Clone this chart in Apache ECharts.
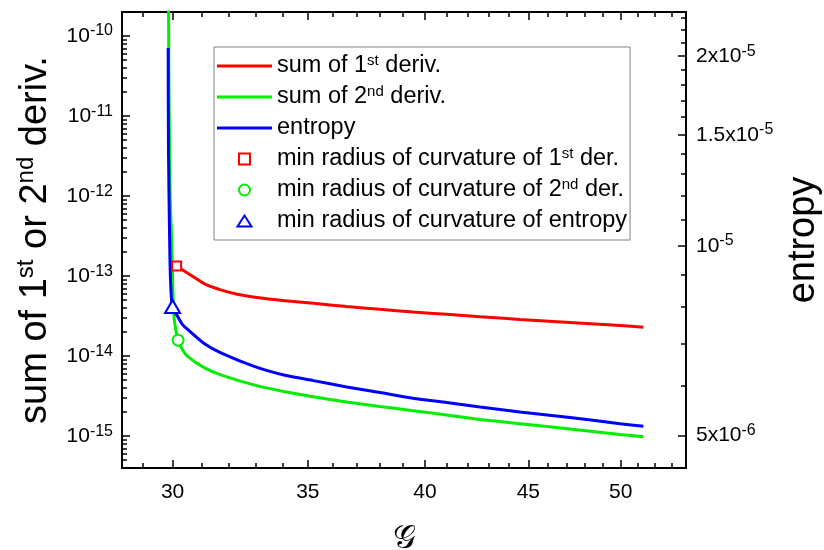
<!DOCTYPE html>
<html><head><meta charset="utf-8">
<script src="https://cdn.jsdelivr.net/npm/echarts@6/dist/echarts.min.js"></script>
<style>html,body{margin:0;padding:0;background:#fff}#c{width:824px;height:550px}</style>
</head><body><div id="c"></div>
<script>
// ---- data ----
const redG   = [30.14, 30.54, 31.10, 31.72, 32.30, 32.95, 34.10, 35.22, 36.59, 38.00, 39.46, 41.00, 42.59, 44.57, 47.19, 49.96, 51.31];
const redV   = [1.334e-13, 1.08e-13, 8.05e-14, 6.68e-14, 5.94e-14, 5.46e-14, 4.93e-14, 4.57e-14, 4.18e-14, 3.85e-14, 3.56e-14, 3.33e-14, 3.11e-14, 2.88e-14, 2.64e-14, 2.41e-14, 2.30e-14];
const greenG = [29.86, 29.88, 29.92, 29.97, 30.01, 30.06, 30.19, 30.35, 30.54, 31.10, 31.72, 32.95, 34.10, 35.22, 36.59, 38.00, 39.46, 41.00, 42.59, 44.57, 47.19, 49.96, 51.31];
const greenV = [4e-10, 1.6e-11, 8.9e-13, 2.8e-13, 6.7e-14, 2.8e-14, 1.585e-14, 1.19e-14, 9.80e-15, 7.18e-15, 5.79e-15, 4.34e-15, 3.58e-15, 3.10e-15, 2.68e-15, 2.35e-15, 2.08e-15, 1.84e-15, 1.62e-15, 1.43e-15, 1.23e-15, 1.05e-15, 0.983e-15];
const blueG  = [29.85, 29.86, 29.90, 29.93, 29.99, 30.20, 30.35, 30.54, 31.10, 31.72, 32.95, 34.10, 35.22, 36.59, 38.00, 39.46, 41.00, 42.59, 44.57, 47.19, 49.96, 51.31];
const blueS  = [2.06e-5, 1.42e-5, 1.02e-5, 8.83e-6, 8.01e-6, 7.69e-6, 7.49e-6, 7.356e-6, 7.0e-6, 6.755e-6, 6.43e-6, 6.23e-6, 6.11e-6, 5.97e-6, 5.85e-6, 5.73e-6, 5.64e-6, 5.55e-6, 5.45e-6, 5.34e-6, 5.22e-6, 5.17e-6];
const minRed   = [30.14, 1.334e-13];
const minGreen = [30.19, 1.585e-14];
const minBlue  = [30.00, 8.01e-6];

// ---- axes / ticks ----
const xRange = [28.32, 53.86];
const xMajor = [30, 35, 40, 45, 50];
const xMinor = [29, 31, 32, 33, 34, 36, 37, 38, 39, 41, 42, 43, 44, 46, 47, 48, 49, 51, 52, 53];
const leftRange = [4e-16, 2e-10];
const leftMajorExp = [-15, -14, -13, -12, -11, -10];
const rightRange = [4.44e-6, 2.35e-5];
const rightMajor = [5e-6, 1e-5, 1.5e-5, 2e-5];
const rightMajorLabels = [['5x10', '-6'], ['10', '-5'], ['1.5x10', '-5'], ['2x10', '-5']];
const rightMinor = [6e-6, 7e-6, 8e-6, 9e-6, 1.1e-5, 1.2e-5, 1.3e-5, 1.4e-5, 1.6e-5, 1.7e-5, 1.8e-5, 1.9e-5, 2.1e-5, 2.2e-5, 2.3e-5];

const L = Math.log10;
const FF = '"Liberation Sans", Arial, sans-serif';

const leftMinor = [];
for (let e = -16; e <= -10; e++) for (let m = 2; m <= 9; m++) {
  const v = m * Math.pow(10, e);
  if (v > leftRange[0] && v < leftRange[1]) leftMinor.push(v);
}

const tickStyle = {color: '#000', width: 1.5};
const supRich = {
  b: {fontSize: 21, lineHeight: 26, fontFamily: FF, color: '#000'},
  s: {fontSize: 16, lineHeight: 16, verticalAlign: 'top', fontFamily: FF, color: '#000'}
};

function minorAxis(base, vals) {
  return Object.assign({}, base, {
    axisLine: {show: false, onZero: false},
    axisTick: {inside: true, length: 5, lineStyle: tickStyle, customValues: vals},
    axisLabel: {show: false}, splitLine: {show: false}, name: ''
  });
}

const xBase = {type: 'value', min: L(xRange[0]), max: L(xRange[1]), splitLine: {show: false}};
const xAxes = [
  Object.assign({}, xBase, {
    position: 'bottom',
    axisLine: {show: true, onZero: false, lineStyle: {color: '#000', width: 2}},
    axisTick: {inside: true, length: 8, lineStyle: tickStyle, customValues: xMajor.map(L)},
    axisLabel: {customValues: xMajor.map(L), fontSize: 21, fontFamily: FF, color: '#000', margin: 14,
      formatter: v => String(Math.round(Math.pow(10, v)))},
    name: '\u{1D4A2}', nameLocation: 'middle', nameGap: 56,
    nameTextStyle: {fontSize: 32, color: '#000', fontFamily: '"DejaVu Sans", "DejaVu Serif", serif'}
  }),
  minorAxis(Object.assign({}, xBase, {position: 'bottom'}), xMinor.map(L)),
  Object.assign({}, xBase, {
    position: 'top',
    axisLine: {show: true, onZero: false, lineStyle: {color: '#000', width: 2}},
    axisTick: {inside: true, length: 8, lineStyle: tickStyle, customValues: xMajor.map(L)},
    axisLabel: {show: false}
  }),
  minorAxis(Object.assign({}, xBase, {position: 'top'}), xMinor.map(L))
];

const yLBase = {type: 'value', min: L(leftRange[0]), max: L(leftRange[1]), splitLine: {show: false}};
const yRBase = {type: 'value', min: L(rightRange[0]), max: L(rightRange[1]), splitLine: {show: false}};
const yAxes = [
  Object.assign({}, yLBase, {
    position: 'left',
    axisLine: {show: true, onZero: false, lineStyle: {color: '#000', width: 2}},
    axisTick: {inside: true, length: 8, lineStyle: tickStyle, customValues: leftMajorExp},
    axisLabel: {customValues: leftMajorExp, margin: 9, rich: supRich,
      formatter: v => '{b|10}{s|' + Math.round(v) + '}'},
    name: '{t|sum of 1}{u|st}{t| or 2}{u|nd}{t| deriv.}',
    nameLocation: 'middle', nameRotate: 90, nameGap: 64,
    nameTextStyle: {color: '#000', rich: {
      t: {fontSize: 38, lineHeight: 44, fontFamily: FF, color: '#000'},
      u: {fontSize: 24, lineHeight: 26, verticalAlign: 'top', fontFamily: FF, color: '#000'}
    }}
  }),
  minorAxis(Object.assign({}, yLBase, {position: 'left'}), leftMinor.map(L)),
  Object.assign({}, yRBase, {
    position: 'right',
    axisLine: {show: true, onZero: false, lineStyle: {color: '#000', width: 2}},
    axisTick: {inside: true, length: 8, lineStyle: tickStyle, customValues: rightMajor.map(L)},
    axisLabel: {customValues: rightMajor.map(L), margin: 10, rich: supRich,
      formatter: v => {
        let bi = 0;
        rightMajor.forEach((t, i) => { if (Math.abs(L(t) - v) < Math.abs(L(rightMajor[bi]) - v)) bi = i; });
        const p = rightMajorLabels[bi];
        return '{b|' + p[0] + '}{s|' + p[1] + '}';
      }},
    name: 'entropy', nameLocation: 'middle', nameRotate: 90, nameGap: 96,
    nameTextStyle: {fontSize: 38, fontFamily: FF, color: '#000'}
  }),
  minorAxis(Object.assign({}, yRBase, {position: 'right'}), rightMinor.map(L))
];

const pts = (gs, vs) => gs.map((g, i) => [L(g), L(vs[i])]);

const names = ['sum of 1st deriv.', 'sum of 2nd deriv.', 'entropy',
  'min radius of curvature of 1st der.', 'min radius of curvature of 2nd der.', 'min radius of curvature of entropy'];
const legendText = {
  'sum of 1st deriv.': '{a|sum of 1}{s|st}{a| deriv.}',
  'sum of 2nd deriv.': '{a|sum of 2}{s|nd}{a| deriv.}',
  'entropy': '{a|entropy}',
  'min radius of curvature of 1st der.': '{a|min radius of curvature of 1}{s|st}{a| der.}',
  'min radius of curvature of 2nd der.': '{a|min radius of curvature of 2}{s|nd}{a| der.}',
  'min radius of curvature of entropy': '{a|min radius of curvature of entropy}'
};
const RED = '#ff0000', GREEN = '#00ee00', BLUE = '#0000ff';
const lineIcon = 'path://M0,0 L55,0 L55,3 L0,3 Z';
const squareIcon = 'path://M0,0 L10,0 L10,10 L0,10 Z';
const triIcon = 'path://M7,0 L14,11 L0,11 Z';
const markStyle = c => ({color: '#fff', borderColor: c, borderWidth: 2, opacity: 1});

const chart = echarts.init(document.getElementById('c'), null, {renderer: 'canvas'});
chart.setOption({
  animation: false,
  backgroundColor: '#fff',
  grid: {left: 122, right: 138, top: 12, bottom: 82, containLabel: false, outerBoundsMode: 'none'},
  xAxis: xAxes,
  yAxis: yAxes,
  legend: {
    orient: 'vertical', left: 214, top: 47,
    padding: [6, 3, 6, 3],
    borderColor: '#808080', borderWidth: 1,
    itemWidth: 55, itemHeight: 11, itemGap: 5,
    symbolKeepAspect: true,
    selectedMode: false,
    textStyle: {fontSize: 23.5, fontFamily: FF, color: '#000', lineHeight: 26, rich: {
      a: {fontSize: 23.5, lineHeight: 26, fontFamily: FF, color: '#000'},
      s: {fontSize: 15, lineHeight: 15, verticalAlign: 'top', fontFamily: FF, color: '#000'}
    }},
    formatter: n => legendText[n],
    data: [
      {name: names[0], icon: lineIcon, itemStyle: {color: RED, borderWidth: 0}},
      {name: names[1], icon: lineIcon, itemStyle: {color: GREEN, borderWidth: 0}},
      {name: names[2], icon: lineIcon, itemStyle: {color: BLUE, borderWidth: 0}},
      {name: names[3], icon: squareIcon, itemStyle: markStyle(RED)},
      {name: names[4], icon: 'circle', itemStyle: markStyle(GREEN)},
      {name: names[5], icon: triIcon, itemStyle: markStyle(BLUE)}
    ]
  },
  series: [
    {name: names[0], type: 'line', xAxisIndex: 0, yAxisIndex: 0, data: pts(redG, redV), symbol: 'none',
      smooth: 0.2, lineStyle: {color: RED, width: 3}, itemStyle: {color: RED}},
    {name: names[1], type: 'line', xAxisIndex: 0, yAxisIndex: 0, data: pts(greenG, greenV), symbol: 'none',
      smooth: 0.2, lineStyle: {color: GREEN, width: 3}, itemStyle: {color: GREEN}},
    {name: names[2], type: 'line', xAxisIndex: 0, yAxisIndex: 2, data: pts(blueG, blueS), symbol: 'none',
      smooth: 0.2, lineStyle: {color: BLUE, width: 3}, itemStyle: {color: BLUE}},
    {name: names[3], type: 'scatter', xAxisIndex: 0, yAxisIndex: 0, data: [[L(minRed[0]), L(minRed[1])]],
      symbol: 'rect', symbolSize: 9, itemStyle: markStyle(RED), z: 5},
    {name: names[4], type: 'scatter', xAxisIndex: 0, yAxisIndex: 0, data: [[L(minGreen[0]), L(minGreen[1])]],
      symbol: 'circle', symbolSize: 11, itemStyle: markStyle(GREEN), z: 5},
    {name: names[5], type: 'scatter', xAxisIndex: 0, yAxisIndex: 2, data: [[L(minBlue[0]), L(minBlue[1])]],
      symbol: 'triangle', symbolSize: [15, 13], itemStyle: markStyle(BLUE), z: 5}
  ]
});
</script>
</body></html>
